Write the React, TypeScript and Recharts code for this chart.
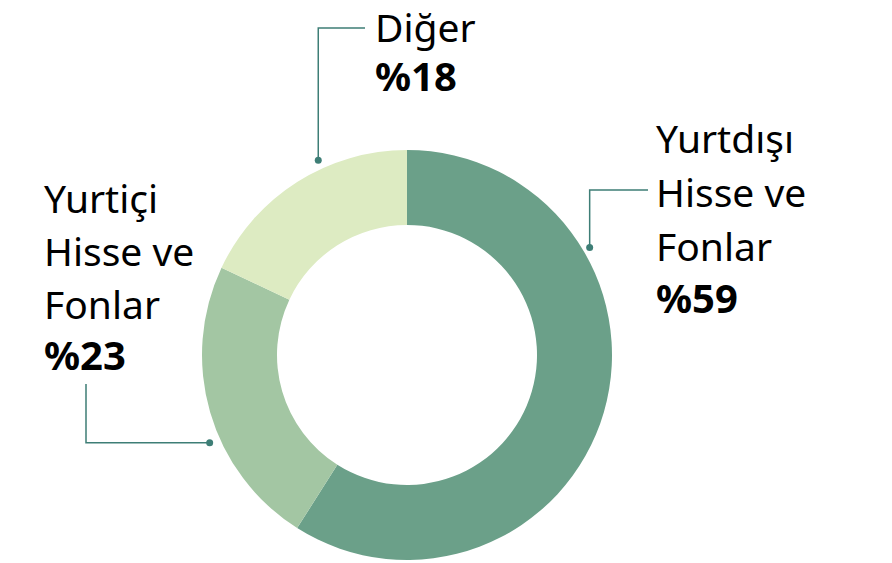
import React from "react";
import { PieChart, Pie, Cell } from "recharts";

const categories = ["Yurtdışı Hisse ve Fonlar", "Yurtiçi Hisse ve Fonlar", "Diğer"];
const values = [59, 23, 18];
const labelLines = [["Yurtdışı", "Hisse ve", "Fonlar"], ["Yurtiçi", "Hisse ve", "Fonlar"], ["Diğer"]];
const percentLabels = ["%59", "%23", "%18"];
const colors = ["#6ba089", "#a3c6a3", "#ddebc2"];

// layout of the callouts (angle on ring where the dot sits, elbow, text block)
const calloutLayout = [
  { dotAngle: 30.5, dotGap: 7, elbow: "up", elbowY: 190, endX: 648, textX: 656, firstBaseline: 153, lineStep: 54 },
  { dotAngle: 204, dotGap: 11, elbow: "side", sideX: 86, endY: 384, textX: 44, firstBaseline: 213, lineStep: 53 },
  { dotAngle: 114.5, dotGap: 9, elbow: "up", elbowY: 28, endX: 365, textX: 375, firstBaseline: 42, lineStep: 51 },
];

const data = categories.map((name, i) => ({ name, value: values[i] }));

const LINE_COLOR = "#3e7e76";
const FONT = "'Noto Sans', 'Open Sans', sans-serif";

const renderLabel = (props: any) => {
  const { cx, cy, outerRadius, index } = props;
  const L = calloutLayout[index];
  const rad = (L.dotAngle * Math.PI) / 180;
  const r = outerRadius + L.dotGap;
  const dx = cx + r * Math.cos(rad);
  const dy = cy - r * Math.sin(rad);
  let path = "";
  if (L.elbow === "up") {
    path = `M${dx},${dy} L${dx},${L.elbowY} L${L.endX},${L.elbowY}`;
  } else {
    path = `M${dx},${dy} L${L.sideX},${dy} L${L.sideX},${L.endY}`;
  }
  const lines = labelLines[index];
  return (
    <g key={`lbl-${index}`}>
      <path d={path} stroke={LINE_COLOR} strokeWidth={1.5} fill="none" />
      <circle cx={dx} cy={dy} r={3.5} fill={LINE_COLOR} />
      {lines.map((t, i) => (
        <text key={i} x={L.textX} y={L.firstBaseline + i * L.lineStep} fill="#000" fontSize={39} fontFamily={FONT}>
          {t}
        </text>
      ))}
      <text
        x={L.textX}
        y={L.firstBaseline + lines.length * L.lineStep - 2}
        fill="#000"
        fontSize={40}
        fontWeight={700}
        fontFamily={FONT}
      >
        {percentLabels[index]}
      </text>
    </g>
  );
};

export default function App() {
  return (
    <div style={{ position: "absolute", left: 0, top: 0, width: 892, height: 563, background: "#fff" }}>
      <PieChart width={892} height={563} margin={{ top: 0, right: 0, bottom: 0, left: 0 }}>
        <Pie
          data={data}
          dataKey="value"
          nameKey="name"
          cx={407}
          cy={355}
          innerRadius={130}
          outerRadius={205}
          startAngle={90}
          endAngle={-270}
          stroke="none"
          labelLine={false}
          label={renderLabel}
          isAnimationActive={false}
        >
          {data.map((d, i) => (
            <Cell key={d.name} fill={colors[i]} />
          ))}
        </Pie>
      </PieChart>
    </div>
  );
}
